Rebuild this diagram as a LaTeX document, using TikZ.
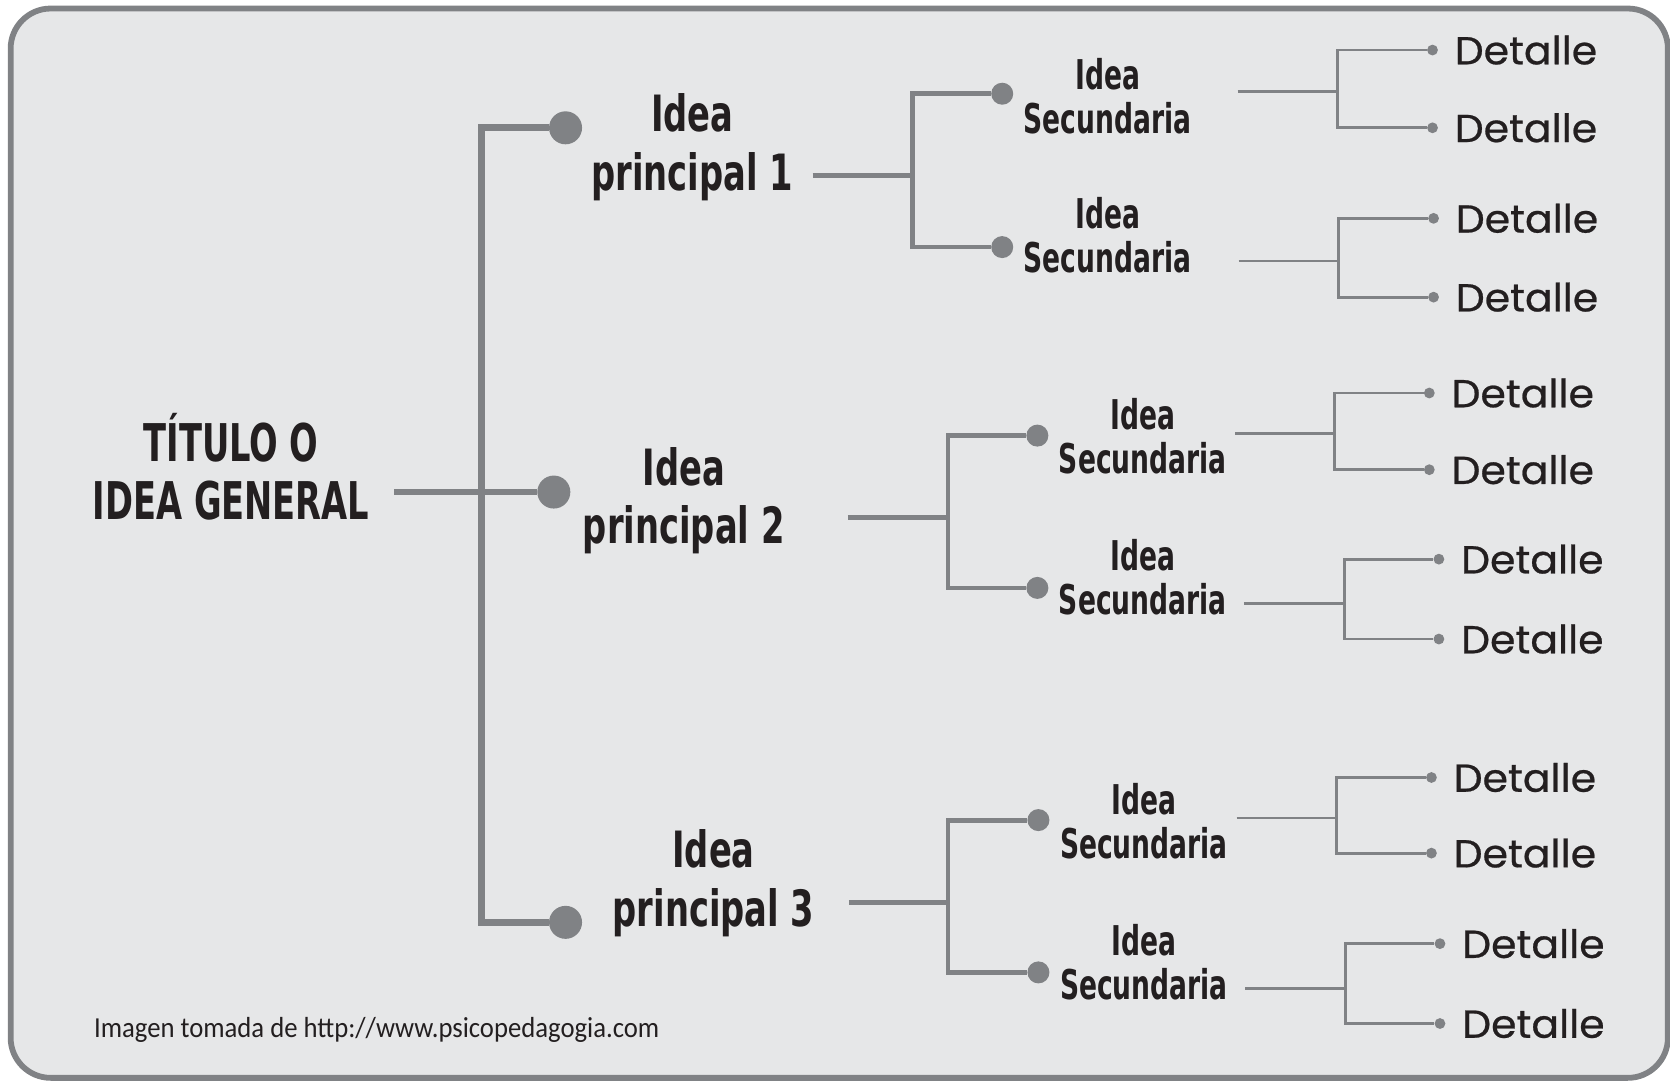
\documentclass[tikz,border=0pt]{standalone}
\usepackage{fontspec}
\usepackage{tikz}
\usepackage{xcolor}
\usetikzlibrary{positioning}
\setmainfont{DejaVu Sans}
\newfontfamily\handfont{DejaVu Sans Condensed}[FakeStretch=0.72]
\newfontfamily\mainhandfont{DejaVu Sans Condensed}[FakeStretch=0.75]
\newfontfamily\detfont{Poppins}[FakeStretch=1.05, FakeBold=0.6]
\newfontfamily\notefont{Carlito}[FakeStretch=0.92]
\definecolor{linegray}{HTML}{808285}
\definecolor{panelgray}{HTML}{E6E7E8}
\definecolor{inkblack}{HTML}{231F20}
\tikzstyle{titulo} = [text=inkblack, align=center, font=\handfont\bfseries\fontsize{26}{29}\selectfont]
\tikzstyle{principal} = [text=inkblack, align=center, font=\mainhandfont\bfseries\fontsize{25}{29.3}\selectfont]
\tikzstyle{secundaria} = [text=inkblack, align=center, font=\handfont\bfseries\fontsize{20.5}{22}\selectfont]
\tikzstyle{detalle} = [text=inkblack, inner sep=0pt, font=\detfont\fontsize{19.5}{22}\selectfont]
\tikzstyle{anmerkung} = [text=inkblack, inner sep=0pt, font=\notefont\fontsize{14.5}{17}\selectfont]
\tikzstyle{bigdot} = [circle, fill=linegray, inner sep=0pt, minimum size=16.5pt]
\tikzstyle{middot} = [circle, fill=linegray, inner sep=0pt, minimum size=11pt]
\tikzstyle{smalldot} = [circle, fill=linegray, inner sep=0pt, minimum size=5.4pt]
\tikzstyle{tronco} = [draw=linegray, line width=3.4pt]
\tikzstyle{rama} = [draw=linegray, line width=2.4pt]
\tikzstyle{ramita} = [draw=linegray, line width=1.4pt]

\begin{document}
\begin{tikzpicture}[x=0.5325pt,y=-0.5325pt]
  \useasboundingbox (0,0) rectangle (1568,1015);
  \fill[white] (0,0) rectangle (1568,1015);
  \path[fill=panelgray, draw=linegray, line width=2.9pt, rounded corners=20pt] (10,8) rectangle (1566,1012);

  % titulo y tronco
  \node[titulo] (T) at (217,438) {TÍTULO O\\IDEA GENERAL};
  \coordinate (T_aus) at (370,462);
  \coordinate (bus_oben) at (452,120);
  \coordinate (bus_unten) at (452,866);
  \node[bigdot] (P_eins_dot) at (531,120) {};
  \node[bigdot] (P_zwei_dot) at (520,462) {};
  \node[bigdot] (P_drei_dot) at (531,866) {};
  \draw[tronco] (P_eins_dot) -- (bus_oben) -- (bus_unten) -- (P_drei_dot);
  \draw[tronco] (T_aus) -- (P_zwei_dot);

  \node[principal] (P_eins) at (650,138) {Idea\\principal 1};
  \node[principal] (P_zwei) at (642,470) {Idea\\principal 2};
  \node[principal] (P_drei) at (670,829) {Idea\\principal 3};

  % idea principal 1
  \coordinate (P_eins_aus) at (763,165);
  \coordinate (P_eins_gabel) at (857,165);
  \node[middot] (S_eins_a_dot) at (941,88) {};
  \node[middot] (S_eins_b_dot) at (941,232) {};
  \draw[rama] (P_eins_aus) -- (P_eins_gabel);
  \draw[rama] (S_eins_a_dot) -| (P_eins_gabel) |- (S_eins_b_dot);
  \node[secundaria] (S_eins_a) at (1040,90) {Idea\\Secundaria};
  \node[secundaria] (S_eins_b) at (1040,221) {Idea\\Secundaria};

  \coordinate (S_eins_a_aus) at (1162,86);
  \coordinate (S_eins_a_gabel) at (1256,86);
  \node[smalldot] (D_eins_a1_dot) at (1345,47) {};
  \node[smalldot] (D_eins_a2_dot) at (1345,120) {};
  \draw[ramita] (S_eins_a_aus) -- (S_eins_a_gabel);
  \draw[ramita] (D_eins_a1_dot) -| (S_eins_a_gabel) |- (D_eins_a2_dot);
  \node[detalle] (D_eins_a1) [right=8pt of D_eins_a1_dot] {Detalle};
  \node[detalle] (D_eins_a2) [right=8pt of D_eins_a2_dot] {Detalle};

  \coordinate (S_eins_b_aus) at (1163,245);
  \coordinate (S_eins_b_gabel) at (1257,245);
  \node[smalldot] (D_eins_b1_dot) at (1346,205) {};
  \node[smalldot] (D_eins_b2_dot) at (1346,279) {};
  \draw[ramita] (S_eins_b_aus) -- (S_eins_b_gabel);
  \draw[ramita] (D_eins_b1_dot) -| (S_eins_b_gabel) |- (D_eins_b2_dot);
  \node[detalle] (D_eins_b1) [right=8pt of D_eins_b1_dot] {Detalle};
  \node[detalle] (D_eins_b2) [right=8pt of D_eins_b2_dot] {Detalle};

  % idea principal 2
  \coordinate (P_zwei_aus) at (796,486);
  \coordinate (P_zwei_gabel) at (890,486);
  \node[middot] (S_zwei_a_dot) at (974,409) {};
  \node[middot] (S_zwei_b_dot) at (974,552) {};
  \draw[rama] (P_zwei_aus) -- (P_zwei_gabel);
  \draw[rama] (S_zwei_a_dot) -| (P_zwei_gabel) |- (S_zwei_b_dot);
  \node[secundaria] (S_zwei_a) at (1073,410) {Idea\\Secundaria};
  \node[secundaria] (S_zwei_b) at (1073,542) {Idea\\Secundaria};

  \coordinate (S_zwei_a_aus) at (1160,407);
  \coordinate (S_zwei_a_gabel) at (1253,407);
  \node[smalldot] (D_zwei_a1_dot) at (1342,369) {};
  \node[smalldot] (D_zwei_a2_dot) at (1342,441) {};
  \draw[ramita] (S_zwei_a_aus) -- (S_zwei_a_gabel);
  \draw[ramita] (D_zwei_a1_dot) -| (S_zwei_a_gabel) |- (D_zwei_a2_dot);
  \node[detalle] (D_zwei_a1) [right=8pt of D_zwei_a1_dot] {Detalle};
  \node[detalle] (D_zwei_a2) [right=8pt of D_zwei_a2_dot] {Detalle};

  \coordinate (S_zwei_b_aus) at (1168,567);
  \coordinate (S_zwei_b_gabel) at (1262,567);
  \node[smalldot] (D_zwei_b1_dot) at (1351,525) {};
  \node[smalldot] (D_zwei_b2_dot) at (1351,600) {};
  \draw[ramita] (S_zwei_b_aus) -- (S_zwei_b_gabel);
  \draw[ramita] (D_zwei_b1_dot) -| (S_zwei_b_gabel) |- (D_zwei_b2_dot);
  \node[detalle] (D_zwei_b1) [right=8pt of D_zwei_b1_dot] {Detalle};
  \node[detalle] (D_zwei_b2) [right=8pt of D_zwei_b2_dot] {Detalle};

  % idea principal 3
  \coordinate (P_drei_aus) at (797,847);
  \coordinate (P_drei_gabel) at (890,847);
  \node[middot] (S_drei_a_dot) at (975,770) {};
  \node[middot] (S_drei_b_dot) at (975,913) {};
  \draw[rama] (P_drei_aus) -- (P_drei_gabel);
  \draw[rama] (S_drei_a_dot) -| (P_drei_gabel) |- (S_drei_b_dot);
  \node[secundaria] (S_drei_a) at (1074,771) {Idea\\Secundaria};
  \node[secundaria] (S_drei_b) at (1074,903) {Idea\\Secundaria};

  \coordinate (S_drei_a_aus) at (1161,768);
  \coordinate (S_drei_a_gabel) at (1255,768);
  \node[smalldot] (D_drei_a1_dot) at (1344,730) {};
  \node[smalldot] (D_drei_a2_dot) at (1344,801) {};
  \draw[ramita] (S_drei_a_aus) -- (S_drei_a_gabel);
  \draw[ramita] (D_drei_a1_dot) -| (S_drei_a_gabel) |- (D_drei_a2_dot);
  \node[detalle] (D_drei_a1) [right=8pt of D_drei_a1_dot] {Detalle};
  \node[detalle] (D_drei_a2) [right=8pt of D_drei_a2_dot] {Detalle};

  \coordinate (S_drei_b_aus) at (1169,928);
  \coordinate (S_drei_b_gabel) at (1263,928);
  \node[smalldot] (D_drei_b1_dot) at (1352,886) {};
  \node[smalldot] (D_drei_b2_dot) at (1352,961) {};
  \draw[ramita] (S_drei_b_aus) -- (S_drei_b_gabel);
  \draw[ramita] (D_drei_b1_dot) -| (S_drei_b_gabel) |- (D_drei_b2_dot);
  \node[detalle] (D_drei_b1) [right=8pt of D_drei_b1_dot] {Detalle};
  \node[detalle] (D_drei_b2) [right=8pt of D_drei_b2_dot] {Detalle};

  \node[anmerkung, anchor=west] (Quelle) at (88,967) {Imagen tomada de http://www.psicopedagogia.com};
\end{tikzpicture}
\end{document}
